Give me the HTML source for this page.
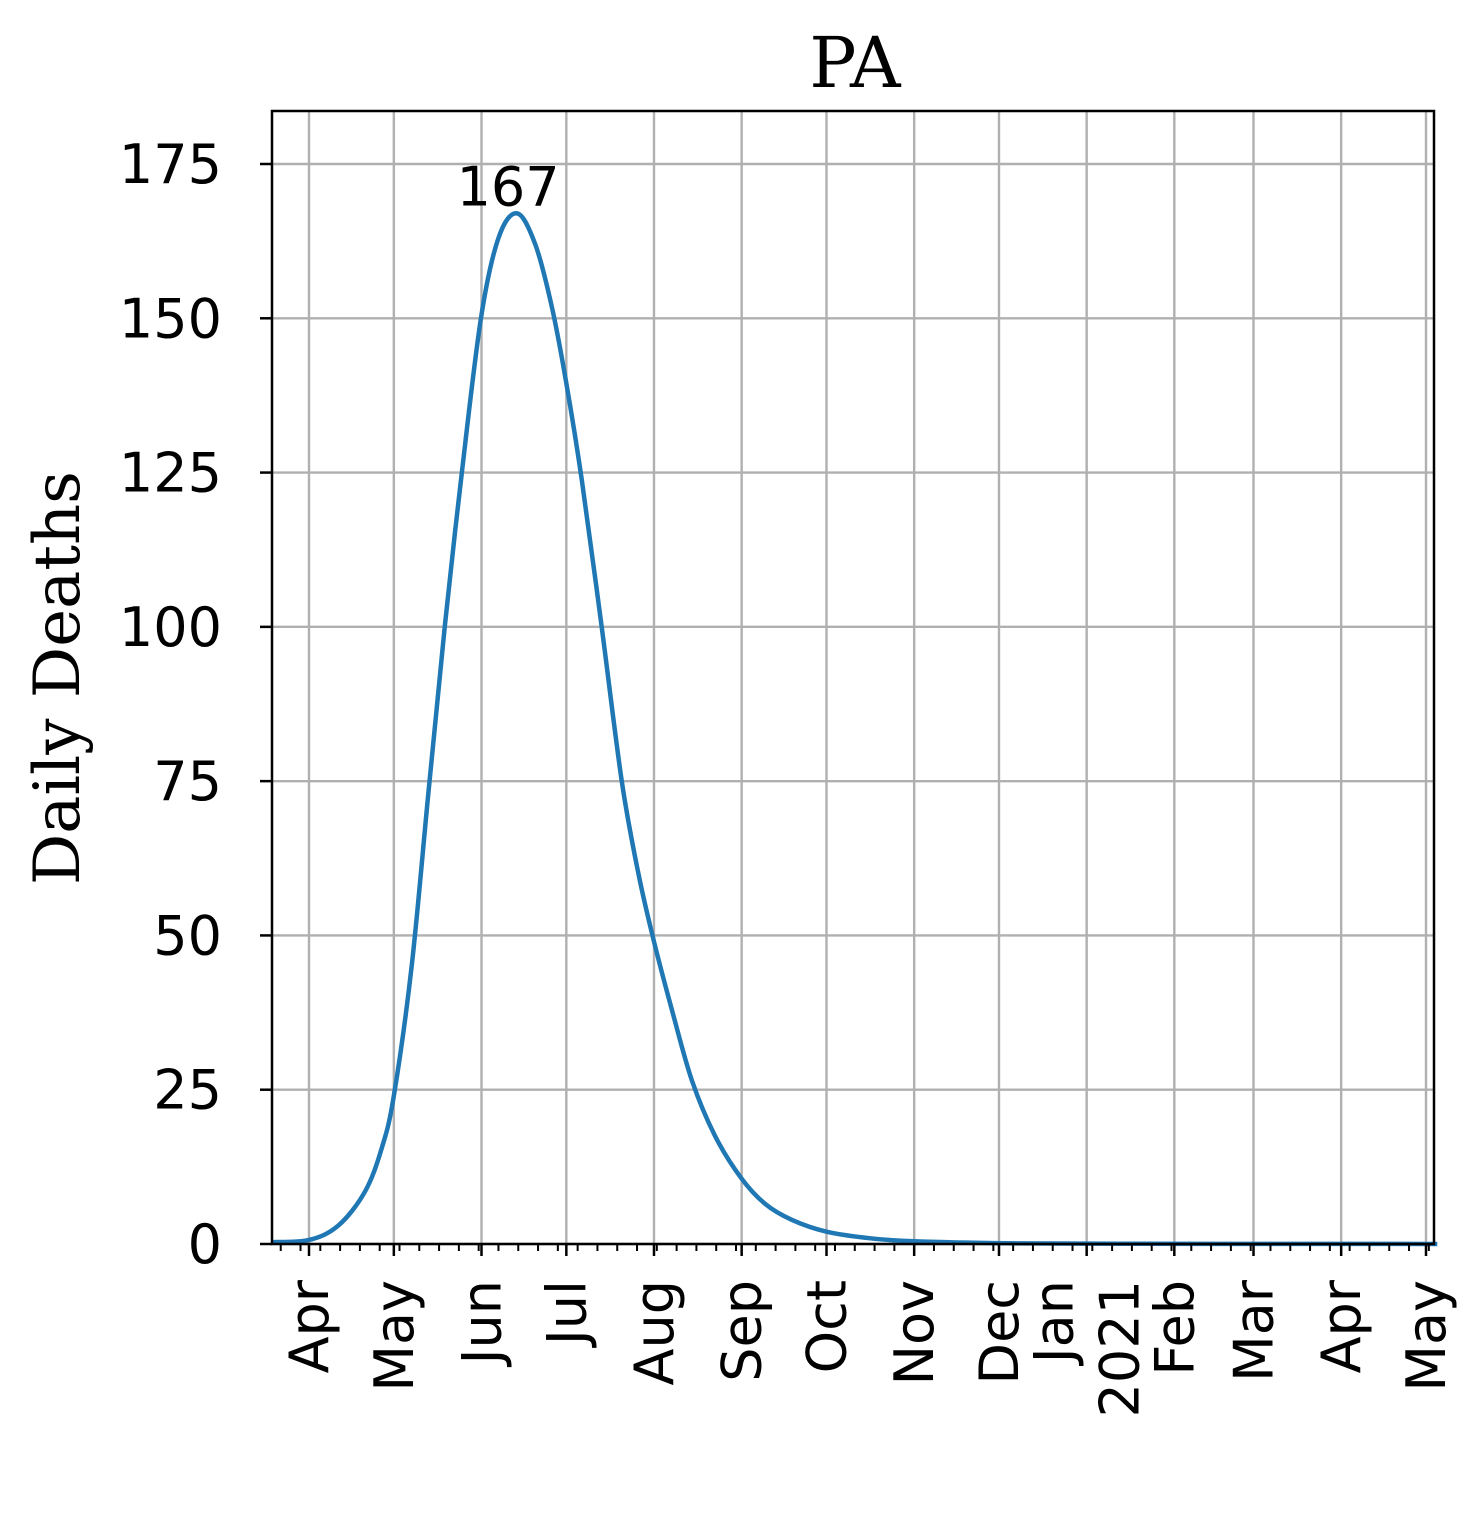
<!DOCTYPE html>
<html><head><meta charset="utf-8"><style>
html,body{margin:0;padding:0;background:#fff;}
svg text{font-family:"DejaVu Sans","Liberation Sans",sans-serif;}
</style></head><body>
<svg width="1484" height="1508" viewBox="0 0 1484 1508" xmlns="http://www.w3.org/2000/svg">
<g id="grid"></g>
<g id="series"></g>
<rect x="272" y="111" width="1162" height="1133" fill="none" stroke="#000" stroke-width="2.5"/>
<g id="axes"></g>
<text x="855" y="87" text-anchor="middle" font-size="70" style="font-family:'DejaVu Serif','Liberation Serif',serif">PA</text>
<text transform="translate(79,678) rotate(-90)" text-anchor="middle" font-size="64" style="font-family:'DejaVu Serif','Liberation Serif',serif">Daily Deaths</text>
</svg>
<script>
// days since 2020-03-19
const days = [-0.2,13,23.4,32.8,38.7,43,49.3,55.2,61,67,73.8,80,86.6,93,98.8,103.8,109.5,116.5,123.6,129.5,135,141.3,148.4,156.6,165.8,174.3,183.8,196,212,227,260,300,360,412];
const deaths = [0.3,0.65,3,8.5,15.5,24,45,73,100,124.8,150,163,167,162,152,140,123.7,100,75,60,49,38,26.5,17.5,10.7,6.5,3.9,2.0,0.9,0.45,0.12,0.04,0.02,0.01];
const yTicks = [0,25,50,75,100,125,150,175];
const monthDays = [13,43,74,104,135,166,196,227,257,288,319,347,378,408];
const monthLabels = ["Apr","May","Jun","Jul","Aug","Sep","Oct","Nov","Dec","Jan\n2021","Feb","Mar","Apr","May"];
const peakLabel = "167";

const X0=272,X1=1434,Y0=1244,Y175=164;
const K=(1426-309)/(408-13);
const xs = d => 309 + (d-13)*K;
const ys = v => Y0 - v*(Y0-Y175)/175;
const NS="http://www.w3.org/2000/svg";
function mk(tag,parent){const e=document.createElementNS(NS,tag);parent.appendChild(e);return e;}
const grid=document.getElementById('grid'), axes=document.getElementById('axes'), series=document.getElementById('series');

yTicks.forEach(v=>{
  const y=ys(v);
  const l=mk('line',grid);
  
  
  l.setAttribute('x1',X0);l.setAttribute('x2',X1);l.setAttribute('y1',y);l.setAttribute('y2',y);
  l.setAttribute('stroke','#b0b0b0');l.setAttribute('stroke-width','2.4');
  const t=mk('line',axes);
  
  
  t.setAttribute('x1',X0-12);t.setAttribute('x2',X0);t.setAttribute('y1',y);t.setAttribute('y2',y);
  t.setAttribute('stroke','#000');t.setAttribute('stroke-width','2.5');
  const tx=mk('text',axes);
  
  
  tx.setAttribute('x',X0-50);tx.setAttribute('y',y+19);tx.setAttribute('text-anchor','end');tx.setAttribute('font-size','54');
  tx.textContent=v;
});
monthDays.forEach((d,i)=>{
  const x=xs(d);
  const l=mk('line',grid);
  
  
  l.setAttribute('x1',x);l.setAttribute('x2',x);l.setAttribute('y1',111);l.setAttribute('y2',Y0);
  l.setAttribute('stroke','#b0b0b0');l.setAttribute('stroke-width','2.4');
  const t=mk('line',axes);
  
  
  t.setAttribute('x1',x);t.setAttribute('x2',x);t.setAttribute('y1',Y0);t.setAttribute('y2',Y0+12);
  t.setAttribute('stroke','#000');t.setAttribute('stroke-width','2.5');
  const lines=monthLabels[i].split('\n');
  lines.forEach((s,k)=>{
    const off=(k-(lines.length-1)/2)*66;
    const tx=mk('text',axes);
    
    
    tx.setAttribute('transform',`translate(${x+off+19},1280) rotate(-90)`);
    tx.setAttribute('text-anchor','end');tx.setAttribute('font-size','54');
    tx.textContent=s;
  });
});
for(let d=3; d<=412; d+=7){
  const x=xs(d);
  const t=mk('line',axes);
  
  
  t.setAttribute('x1',x);t.setAttribute('x2',x);t.setAttribute('y1',Y0);t.setAttribute('y2',Y0+7);
  t.setAttribute('stroke','#000');t.setAttribute('stroke-width','2');
}
const P=days.map((d,i)=>[xs(d),ys(deaths[i])]);
let dstr=`M${P[0][0]},${P[0][1]}`;
for(let i=0;i<P.length-1;i++){
  const p0=P[Math.max(0,i-1)],p1=P[i],p2=P[i+1],p3=P[Math.min(P.length-1,i+2)];
  const c1=[p1[0]+(p2[0]-p0[0])/6,p1[1]+(p2[1]-p0[1])/6];
  const c2=[p2[0]-(p3[0]-p1[0])/6,p2[1]-(p3[1]-p1[1])/6];
  dstr+=` C${c1[0]},${Math.min(c1[1],Y0)} ${c2[0]},${Math.min(c2[1],Y0)} ${p2[0]},${p2[1]}`;
}
const path=mk('path',series);


path.setAttribute('d',dstr);path.setAttribute('fill','none');path.setAttribute('stroke','#1f77b4');path.setAttribute('stroke-width','4.5');
const pi=deaths.indexOf(Math.max(...deaths));
const pk=mk('text',series);


pk.setAttribute('x',xs(days[pi])-9);pk.setAttribute('y',ys(deaths[pi])-8);pk.setAttribute('text-anchor','middle');pk.setAttribute('font-size','54');
pk.textContent=peakLabel;
</script>
</body></html>
